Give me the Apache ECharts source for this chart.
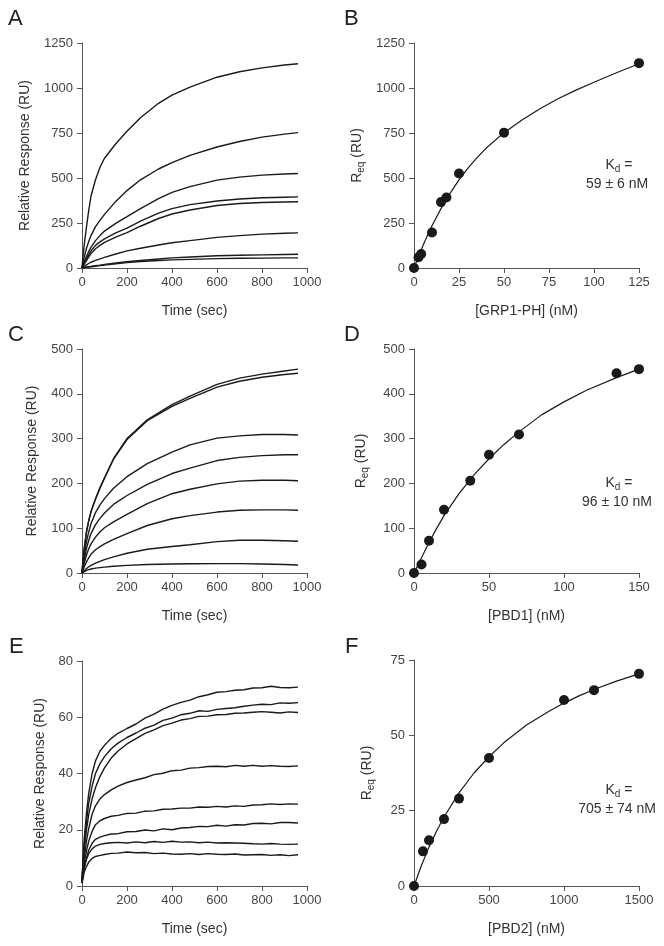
<!DOCTYPE html>
<html>
<head>
<meta charset="utf-8">
<script src="https://cdn.jsdelivr.net/npm/echarts@6/dist/echarts.min.js"></script>
<style>html,body{margin:0;padding:0;background:#fff;}#c{width:664px;height:946px;}</style>
</head>
<body>
<div id="c"></div>
<script>
// ---------- Panel A: association curves (Time, RU) ----------
const tA = [0,5,10,20,30,40,60,80,100,150,200,260,340,400,480,600,700,800,900,960];
const a1 = [0,70,130,230,320,400,490,560,610,690,760,835,915,960,1005,1060,1090,1112,1128,1135];
const a2 = [0,32,60,110,148,180,230,265,298,370,430,490,550,585,626,672,703,727,744,752];
const a3 = [0,18,35,65,92,115,152,180,205,248,285,330,385,420,452,488,505,516,522,525];
const a4 = [0,13,25,50,74,95,126,145,162,195,222,260,305,330,352,372,383,390,393,395];
const a5 = [0,11,22,42,62,80,107,126,142,172,196,232,275,300,322,347,358,364,367,368];
const a6 = [0,5,9,17,25,32,42,51,59,78,95,110,128,140,152,170,180,188,193,195];
const a7 = [0,1,2,5,7,9,13,16,20,28,35,42,50,56,61,68,71,73,75,76];
const a8 = [0,1,2,4,5.5,7,10,13,16,23,30,36,42,45,48,52,54,55,56,56];

// ---------- Panel B: equilibrium binding ([GRP1-PH] nM, Req RU) ----------
const bConc = [0,2.5,4,10,15,18,25,50,125];
const bReq  = [0,60,78,197,366,392,525,752,1138];
const bFitX = [0,2.5,5,7.5,10,15,20,25,30,35,40,50,60,70,80,90,100,112.5,125];
const bFitY = [0,64,125,182,235,330,415,490,555,613,665,752,822,885,940,988,1032,1085,1135];

// ---------- Panel C ----------
const tC = [0,5,10,20,30,40,60,80,100,140,200,290,400,480,600,700,800,900,960];
const c1 = [0,32,55,92,117,137,165,190,212,255,300,342,376,395,421,435,444,451,455];
const c2 = [0,32,55,92,117,137,165,190,212,254,298,340,372,390,415,428,437,443,446];
const c3 = [0,22,40,70,92,110,135,152,166,189,215,244,270,286,301,306,309,309,308];
const c4 = [0,16,30,55,73,88,108,122,134,153,173,198,222,234,251,258,262,264,264];
const c5 = [0,12,22,40,54,65,80,92,101,114,131,155,177,187,199,205,207,207,206];
const c6 = [0,7,14,25,34,42,52,59,65,75,88,106,121,128,136,140,141,141,140];
const c7 = [0,3,5,10,14,17,22,26,30,36,44,53,59,63,70,73,73,72,71];
const c8 = [0,1.5,3,6,7.5,9,11,12,13,15,17,19,20,20.5,21,21,20,19,18];

// ---------- Panel D ----------
const dConc = [0,5,10,20,37.5,50,70,135,150];
const dReq  = [0,19,72,141,206,264,309,446,455];
const dFitX = [0,5,10,15,20,30,40,50,60,70,85,100,115,135,150];
const dFitY = [0,34,68,99,128,177,219,255,287,315,353,382,408,436,455];

// ---------- Panel E ----------
const tE = [0,5,10,20,30,45,60,80,100,130,160,200,240,280,320,360,400,440,480,520,560,600,640,680,720,760,800,840,880,920,960];
const e1 = [2,10,17,26,33,40,44.5,48,50,52.5,54.3,56,57.6,59.7,61.1,62.9,64.2,65.3,66.1,67.3,68.0,68.9,69.1,69.6,69.8,70.4,70.5,71.0,70.6,70.5,70.7];
const e2 = [2,9,15,23,29.5,35.5,40,43.5,46,48.8,50.8,52.8,54.4,56.1,57.2,58.9,59.7,60.9,61.4,62.3,62.1,62.8,63.1,63.4,63.9,64.3,64.6,64.5,65.1,65.0,65.2];
const e3 = [2,8,13,20,25.5,31,35,39,42,45.5,48,50.5,52.4,54.3,55.5,57.0,57.9,59.0,59.5,60.3,60.4,60.9,61.0,61.4,61.5,61.8,62.0,61.8,61.5,61.9,61.7];
const e4 = [1.5,6,10,16,20.5,25.5,28.5,31,32.5,34.2,35.5,36.8,37.7,38.5,39.6,40.1,41.0,41.2,41.9,42.1,42.5,42.6,42.4,42.9,42.6,42.9,42.6,42.8,42.6,42.5,42.7];
const e5 = [1,5,8,12.5,16,19.5,21.8,23.2,24,24.8,25.1,25.8,25.9,26.6,26.7,27.3,27.4,27.7,27.7,28.1,28.0,28.3,28.1,28.5,28.3,28.8,28.9,29.2,29.0,29.2,29.1];
const e6 = [1,4,6.5,10,12.8,15.2,16.6,17.4,17.9,18.5,18.6,19.3,19.4,19.9,19.6,20.3,20.0,20.6,20.8,21.2,21.1,21.6,21.3,21.8,21.7,22.2,22.3,22.1,22.6,22.6,22.4];
const e7 = [1,4,6.5,9.5,11.5,13.2,14.2,14.8,15.1,15.4,15.5,15.3,15.7,15.4,15.8,15.5,15.9,15.6,15.7,15.4,15.6,15.3,15.4,15.3,15.2,15.0,14.9,15.1,14.9,14.8,14.9];
const e8 = [1,3,5,7,8.5,9.8,10.5,10.9,11.2,11.6,11.7,12.1,11.8,11.9,11.5,11.7,11.4,11.3,11.5,11.2,11.5,11.3,11.2,11.4,11.0,11.1,11.2,10.9,11.1,10.8,11.1];

// ---------- Panel F ----------
const fConc = [0,60,100,200,300,500,1000,1200,1500];
const fReq  = [0,11.5,15.2,22.2,29,42.5,61.7,65,70.4];
const fFitX = [0,50,100,150,200,300,400,500,600,750,900,1000,1100,1200,1350,1500];
const fFitY = [0,6.9,12.9,18.2,22.9,30.9,37.5,42.9,47.6,53.4,58.0,60.7,63.1,65.2,68.0,70.4];

// ---------- Texts ----------
const panelLetters = ['A','B','C','D','E','F'];
const kdTexts = ['59 \u00b1 6 nM','96 \u00b1 10 nM','705 \u00b1 74 nM'];

const FONT = 'Liberation Sans, Arial, Helvetica, sans-serif';
const LINE = '#1a1a1a';
const AX = '#555';

const grids = [
  {left:82, top:43, width:225, height:225},
  {left:414, top:43, width:225, height:225},
  {left:82, top:349, width:225, height:224},
  {left:414, top:349, width:225, height:224},
  {left:82, top:661, width:225, height:225},
  {left:414, top:660, width:225, height:226}
];

const plain = v => String(v);

function xAx(i, max, interval, name){
  return {
    type:'value', gridIndex:i, min:0, max:max, interval:interval,
    name:name, nameLocation:'middle', nameGap:36,
    nameTextStyle:{color:'#333', fontSize:14, fontFamily:FONT},
    axisLine:{show:true, onZero:false, lineStyle:{color:AX, width:1}},
    axisTick:{show:true, length:5, lineStyle:{color:AX}},
    axisLabel:{color:'#444', fontSize:13, fontFamily:FONT, margin:8, formatter:plain},
    splitLine:{show:false}
  };
}
const reqRich = {
  a:{fontSize:14, fontFamily:FONT, color:'#333'},
  b:{fontSize:10, fontFamily:FONT, color:'#333', padding:[8,0,0,0]}
};
function yAx(i, max, interval, name, gap, rich){
  const o = {
    type:'value', gridIndex:i, min:0, max:max, interval:interval,
    name:name, nameLocation:'middle', nameGap:gap, nameRotate:90,
    nameTextStyle:{color:'#333', fontSize:14, fontFamily:FONT},
    axisLine:{show:true, onZero:false, lineStyle:{color:AX, width:1}},
    axisTick:{show:true, length:5, lineStyle:{color:AX}},
    axisLabel:{color:'#444', fontSize:13, fontFamily:FONT, margin:9, formatter:plain},
    splitLine:{show:false}
  };
  if (rich) o.nameTextStyle.rich = reqRich;
  return o;
}

const xAxes = [
  xAx(0,1000,200,'Time (sec)'),
  xAx(1,125,25,'[GRP1-PH] (nM)'),
  xAx(2,1000,200,'Time (sec)'),
  xAx(3,150,50,'[PBD1] (nM)'),
  xAx(4,1000,200,'Time (sec)'),
  xAx(5,1500,500,'[PBD2] (nM)')
];
const reqName = '{a|R}{b|eq}{a| (RU)}';
const yAxes = [
  yAx(0,1250,250,'Relative Response (RU)',50),
  yAx(1,1250,250,reqName,48,true),
  yAx(2,500,100,'Relative Response (RU)',43),
  yAx(3,500,100,reqName,44,true),
  yAx(4,80,20,'Relative Response (RU)',35),
  yAx(5,75,25,reqName,38,true)
];

function zip(xs, ys){ return xs.map((x,k)=>[x, ys[k]]); }
function curve(i, xs, ys, w){
  return {type:'line', xAxisIndex:i, yAxisIndex:i, data:zip(xs,ys), showSymbol:false,
    smooth:false, silent:true, lineStyle:{color:LINE, width:w||1.4}, z:2};
}
function dots(i, xs, ys){
  return {type:'scatter', xAxisIndex:i, yAxisIndex:i, data:zip(xs,ys), symbolSize:10,
    itemStyle:{color:LINE, opacity:1}, silent:true, z:3};
}

const series = [];
[a1,a2,a3,a4,a5,a6,a7,a8].forEach(s=>series.push(curve(0,tA,s)));
series.push(curve(1,bFitX,bFitY,1.2));
series.push(dots(1,bConc,bReq));
[c1,c2,c3,c4,c5,c6,c7,c8].forEach(s=>series.push(curve(2,tC,s)));
series.push(curve(3,dFitX,dFitY,1.2));
series.push(dots(3,dConc,dReq));
[e1,e2,e3,e4,e5,e6,e7,e8].forEach(s=>series.push(curve(4,tE,s)));
series.push(curve(5,fFitX,fFitY,1.2));
series.push(dots(5,fConc,fReq));

const letterPos = [[8,8],[344,8],[8,324],[344,324],[9,636],[345,636]];
const graphic = [];
panelLetters.forEach((L,k)=>{
  graphic.push({type:'text', left:letterPos[k][0], top:letterPos[k][1],
    style:{text:L, fontSize:22, fontFamily:FONT, fill:'#222'}});
});
const kdY = [165, 483, 790];
kdTexts.forEach((t,k)=>{
  graphic.push({type:'text', x:619, y:kdY[k], style:{
    text:'{a|K}{b|d}{a| =}', align:'center', verticalAlign:'middle',
    rich:{a:{fontSize:14, fontFamily:FONT, fill:'#333'}, b:{fontSize:10, fontFamily:FONT, fill:'#333', padding:[8,0,0,0]}}
  }});
  graphic.push({type:'text', x:617, y:kdY[k]+19, style:{
    text:t, align:'center', verticalAlign:'middle', fontSize:14, fontFamily:FONT, fill:'#333'
  }});
});

const chart = echarts.init(document.getElementById('c'), null, {renderer:'canvas'});
chart.setOption({
  animation:false,
  backgroundColor:'#fff',
  grid:grids,
  xAxis:xAxes,
  yAxis:yAxes,
  series:series,
  graphic:graphic
});
</script>
</body>
</html>
